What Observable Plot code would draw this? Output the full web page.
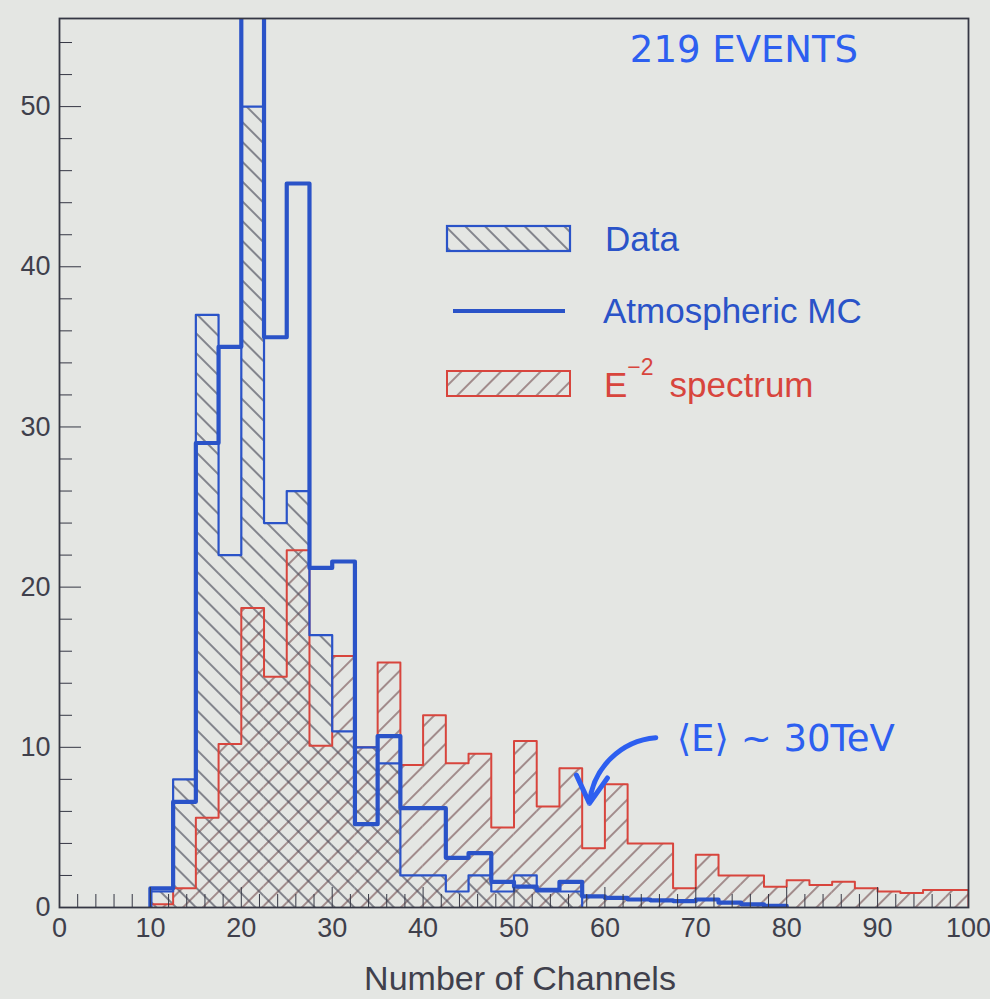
<!DOCTYPE html>
<html>
<head>
<meta charset="utf-8">
<script src="https://cdn.jsdelivr.net/npm/d3@7"></script>
<script src="https://cdn.jsdelivr.net/npm/@observablehq/plot@0.6"></script>
<style>
  body { margin: 0; background: #e4e6e3; }
  #chart { width: 990px; height: 999px; }
</style>
</head>
<body>
<div id="chart"></div>
<script>
// ---- data ----
const binStart = [10,12.5,15,17.5,20,22.5,25,27.5,30,32.5,35,37.5,40,42.5,45,47.5,50,52.5,55,57.5,60,62.5,65,67.5,70,72.5,75,77.5,80,82.5,85,87.5,90,92.5,95,97.5];
const binWidth = 2.5;
const dataCounts = [1,8,37,22,50,24,26,17,11,10,9,2,2,1,2,1,2,1,1,0,0,0,0,0,0,0,0,0,0,0,0,0,0,0,0,0];
const mcValues   = [1.2,6.6,29,35,60,35.6,45.2,21.2,21.6,5.2,10.7,6.2,6.2,3.1,3.4,1.6,1.3,1.1,1.6,0.7,0.6,0.5,0.45,0.4,0.5,0.3,0.2,0.1,0,0,0,0,0,0,0,0];
const e2Values   = [0.2,1.2,5.6,10.2,18.7,14.4,22.3,10.1,15.7,10.0,15.3,8.9,12.0,9.0,9.6,5.0,10.4,6.3,8.7,3.7,7.7,4.0,4.0,1.2,3.3,2.0,2.0,1.3,1.7,1.4,1.6,1.2,1.0,0.9,1.1,1.1];

const xMajorTicks = [0,10,20,30,40,50,60,70,80,90,100];
const xMinorTicks = [2,4,6,8,12,14,16,18,22,24,26,28,32,34,36,38,42,44,46,48,52,54,56,58,62,64,66,68,72,74,76,78,82,84,86,88,92,94,96,98];
const yMajorTicks = [0,10,20,30,40,50];
const yMinorTicks = [2,4,6,8,12,14,16,18,22,24,26,28,32,34,36,38,42,44,46,48,52,54];

const legendLabels = ["Data", "Atmospheric MC", "E", "\u22122", "spectrum"];
const annotations = [
  {x: 75.3, y: 53.5, text: "219 EVENTS"},
  {x: 79.9, y: 10.5, text: "\u27E8E\u27E9 ~ 30TeV"}
];
const arrowData = [{x1: 65.6, y1: 10.6, x2: 58.3, y2: 6.5}];

// ---- derived tables ----
const bars = vals => binStart.map((s, i) => ({x1: s, x2: s + binWidth, y: vals[i]})).filter(d => d.y > 0);
function steps(vals) {
  let first = 0; while (first < vals.length && vals[first] <= 0) first++;
  let last = vals.length - 1; while (last >= 0 && vals[last] <= 0) last--;
  const pts = [{x: binStart[first], y: 0}];
  for (let i = first; i <= last; i++) {
    pts.push({x: binStart[i], y: vals[i]});
    pts.push({x: binStart[i] + binWidth, y: vals[i]});
  }
  pts.push({x: binStart[last] + binWidth, y: 0});
  return pts;
}

const BLUE = "#2a53c8";
const RED = "#d8453d";
const INK = "#3f404c";
const AX = "#353744";
const HAND = "#2d5ff0";
const FONT = "'Liberation Sans', Arial, Helvetica, sans-serif";

const chart = Plot.plot({
  width: 990,
  height: 999,
  marginLeft: 59,
  marginRight: 22,
  marginTop: 18,
  marginBottom: 92,
  x: {domain: [0, 100]},
  y: {domain: [0, 55.5]},
  style: {background: "#e4e6e3", fontFamily: FONT},
  marks: [
    Plot.rectY(bars(e2Values), {x1: "x1", x2: "x2", y: "y", fill: "url(#hatchRed)", clip: true}),
    Plot.rectY(bars(dataCounts), {x1: "x1", x2: "x2", y: "y", fill: "url(#hatchData)", clip: true}),
    Plot.line(steps(e2Values), {x: "x", y: "y", stroke: RED, strokeWidth: 2, clip: true}),
    Plot.line(steps(dataCounts), {x: "x", y: "y", stroke: BLUE, strokeWidth: 2.2, clip: true}),
    Plot.line(steps(mcValues), {x: "x", y: "y", stroke: BLUE, strokeWidth: 4.2, clip: true}),
    Plot.frame({stroke: AX, strokeWidth: 1.8}),
    Plot.axisY(yMinorTicks, {tickSize: -13, text: null, label: null, stroke: AX}),
    Plot.axisY(yMajorTicks, {tickSize: -22, tickPadding: 31, label: null, fontSize: 27, fontFamily: FONT, fill: INK, stroke: AX}),
    Plot.axisX(xMinorTicks, {tickSize: -13, text: null, label: null, stroke: AX}),
    Plot.axisX(xMajorTicks, {tickSize: -20, tickPadding: 30, label: null, fontSize: 27, fontFamily: FONT, fill: INK, stroke: AX}),
    Plot.text(["Number of Channels"], {frameAnchor: "bottom", dx: 6, dy: 72, fontSize: 34, fontFamily: FONT, fill: INK, lineAnchor: "middle"}),
    Plot.text(annotations, {x: "x", y: "y", text: "text", fontSize: 37, fill: HAND, fontFamily: "'DejaVu Sans', sans-serif", lineAnchor: "middle"}),
    Plot.arrow(arrowData, {x1: "x1", y1: "y1", x2: "x2", y2: "y2", bend: -40, stroke: HAND, strokeWidth: 5, headLength: 16})
  ]
});

// hatch patterns + legend
const svg = d3.select(chart);
const defs = svg.insert("defs", ":first-child");
function hatch(id, angle, color) {
  const p = defs.append("pattern").attr("id", id).attr("patternUnits", "userSpaceOnUse")
    .attr("width", 14).attr("height", 14).attr("patternTransform", `rotate(${angle})`);
  p.append("line").attr("x1", 1).attr("y1", 0).attr("x2", 1).attr("y2", 14)
    .attr("stroke", color).attr("stroke-width", 1.3);
}
hatch("hatchData", -45, "#4e505e");
hatch("hatchRed", 45, "#7d5a5c");

const lg = svg.append("g").attr("font-family", FONT).attr("text-anchor", "start");
lg.append("rect").attr("x", 447).attr("y", 226).attr("width", 123).attr("height", 25)
  .attr("fill", "url(#hatchData)").attr("stroke", BLUE).attr("stroke-width", 2.2);
lg.append("text").attr("x", 605).attr("y", 251).attr("font-size", 35).attr("fill", BLUE).text(legendLabels[0]);
lg.append("line").attr("x1", 453).attr("x2", 565).attr("y1", 311).attr("y2", 311)
  .attr("stroke", BLUE).attr("stroke-width", 4.2);
lg.append("text").attr("x", 603).attr("y", 323).attr("font-size", 35).attr("fill", BLUE).text(legendLabels[1]);
lg.append("rect").attr("x", 447).attr("y", 371).attr("width", 123).attr("height", 25)
  .attr("fill", "url(#hatchRed)").attr("stroke", RED).attr("stroke-width", 2);
const t3 = lg.append("text").attr("x", 604).attr("y", 397).attr("font-size", 35).attr("fill", RED);
t3.append("tspan").text(legendLabels[2]);
t3.append("tspan").attr("dy", -22).attr("font-size", 23).text(legendLabels[3]);
t3.append("tspan").attr("dy", 22).attr("dx", 16).text(legendLabels[4]);

document.getElementById("chart").appendChild(chart);
</script>
</body>
</html>
